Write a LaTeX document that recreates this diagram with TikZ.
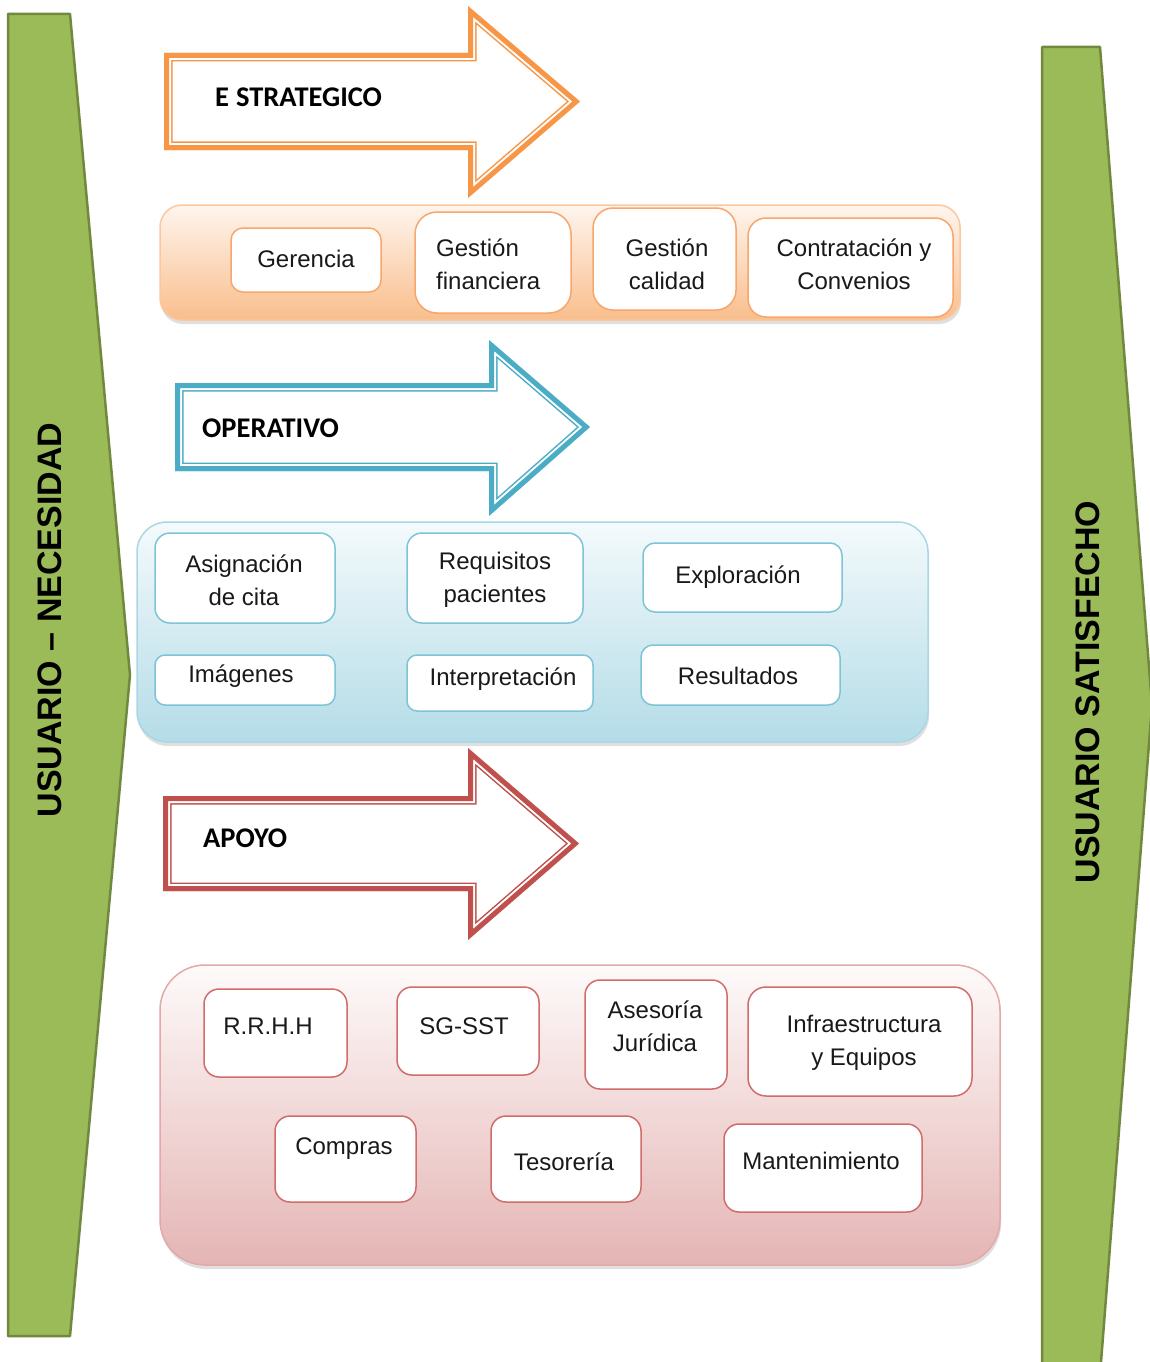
\documentclass[tikz,border=0pt]{standalone}
\usepackage{fontspec}
\setmainfont{Liberation Sans}
\newfontfamily\headfont{Carlito}
\usetikzlibrary{shadows}
\definecolor{grn}{HTML}{9BBB59}
\definecolor{grnd}{HTML}{71893F}
\definecolor{orA}{HTML}{F79646}
\definecolor{orB}{HTML}{F7A66C}
\definecolor{orC}{HTML}{FAC79F}
\definecolor{orTop}{HTML}{FEF5EE}
\definecolor{orBot}{HTML}{F9BE8C}
\definecolor{blA}{HTML}{4BACC6}
\definecolor{blB}{HTML}{7EC4D8}
\definecolor{blC}{HTML}{A9D7E4}
\definecolor{blTop}{HTML}{F4FAFC}
\definecolor{blBot}{HTML}{B4DCE7}
\definecolor{rdA}{HTML}{C0504D}
\definecolor{rdB}{HTML}{D06C69}
\definecolor{rdC}{HTML}{E3A9A8}
\definecolor{rdTop}{HTML}{FEFAFA}
\definecolor{rdBot}{HTML}{E4B5B4}
% #1 colour, #2 x0, #3 shaft top, #4 shaft bottom, #5 head x, #6 head top, #7 tip x, #8 head bottom
\newcommand\procarrow[8]{%
  \begin{scope}
    \fill[white] (#2,#3) -- (#5,#3) -- (#5,#6) -- (#7,{(#3+#4)/2}) -- (#5,#8) -- (#5,#4) -- (#2,#4) -- cycle;
    \clip (#2,#3) -- (#5,#3) -- (#5,#6) -- (#7,{(#3+#4)/2}) -- (#5,#8) -- (#5,#4) -- (#2,#4) -- cycle;
    \draw[#1, line width=17, line join=miter, miter limit=20] (#2,#3) -- (#5,#3) -- (#5,#6) -- (#7,{(#3+#4)/2}) -- (#5,#8) -- (#5,#4) -- (#2,#4) -- cycle;
    \draw[white, line width=14, line join=miter, miter limit=20] (#2,#3) -- (#5,#3) -- (#5,#6) -- (#7,{(#3+#4)/2}) -- (#5,#8) -- (#5,#4) -- (#2,#4) -- cycle;
    \draw[#1, line width=10, line join=miter, miter limit=20] (#2,#3) -- (#5,#3) -- (#5,#6) -- (#7,{(#3+#4)/2}) -- (#5,#8) -- (#5,#4) -- (#2,#4) -- cycle;
  \end{scope}}
\begin{document}
\begin{tikzpicture}[x=1pt,y=-1pt,
  greenshape/.style={fill=grn, draw=grnd, line width=2.5, line join=round},
  sidetext/.style={font=\bfseries\fontsize{34}{34}\selectfont, rotate=90, inner sep=0},
  cont/.style={rectangle, line width=1.5, inner sep=0,
     drop shadow={shadow xshift=1pt, shadow yshift=-4pt, opacity=0.25}},
  box/.style={rectangle, line width=1.5, fill=white, inner sep=0},
  txt/.style={font=\fontsize{24}{33}\selectfont, align=center, inner sep=0, text=black!90},
  head/.style={font=\headfont\bfseries\fontsize{28.5}{28}\selectfont, anchor=west, inner sep=0},
  obox/.style={box, draw=orB},
  bbox/.style={box, draw=blB},
  rbox/.style={box, draw=rdB}]
\useasboundingbox (0,0) rectangle (1150,1362);
\clip (0,0) rectangle (1150,1362);

% green side shapes
\draw[greenshape] (8,14) -- (70,14) -- (130,675) -- (70,1336) -- (8,1336) -- cycle;
\draw[greenshape] (1042,47) -- (1100,47) -- (1152,705) -- (1100,1375) -- (1042,1375) -- cycle;
\node[sidetext] (need) at (50,620) {USUARIO – NECESIDAD};
\node[sidetext] (sat) at (1088,692) {USUARIO SATISFECHO};

% containers
\node[cont, draw=orC, top color=orTop, bottom color=orBot, rounded corners=22,
      minimum width=800, minimum height=115] (estc) at (560,262.5) {};
\node[cont, draw=blC, top color=blTop, bottom color=blBot, rounded corners=30,
      minimum width=791, minimum height=220] (opc) at (532.5,632) {};
\node[cont, draw=rdC, top color=rdTop, bottom color=rdBot, rounded corners=45,
      minimum width=840, minimum height=300] (apc) at (580,1115) {};

% process arrows
\procarrow{orA}{164}{53}{150}{468}{6}{580}{198}
\procarrow{blA}{175}{383}{471}{489}{340}{590}{516}
\procarrow{rdA}{163}{796}{891}{468}{748}{579}{940}
\node[head] (est) at (215,97) {E\kern7pt STRATEGICO};
\node[head] (op) at (202,428) {OPERATIVO};
\node[head] (ap) at (203,838) {APOYO};

% strategic boxes
\node[obox, rounded corners=12, minimum width=150, minimum height=64] (ger) at (306,260) {};
\node[txt] (gert) at (306,259) {Gerencia};
\node[obox, rounded corners=22, minimum width=156, minimum height=101] (gf) at (493,262.5) {};
\node[txt, align=left, anchor=west] (gft) at (436,264) {Gestión\\financiera};
\node[obox, rounded corners=20, minimum width=143, minimum height=102] (gc) at (664.5,259) {};
\node[txt] (gct) at (667,264) {Gestión\\calidad};
\node[obox, rounded corners=18, minimum width=205, minimum height=99] (cc) at (850.5,267.5) {};
\node[txt] (cct) at (854,264) {Contratación y\\Convenios};

% operative boxes
\node[bbox, rounded corners=15, minimum width=180, minimum height=90] (ac) at (245,578) {};
\node[txt] (act) at (244,580) {Asignación\\de cita};
\node[bbox, rounded corners=15, minimum width=176, minimum height=90] (rp) at (495,578) {};
\node[txt] (rpt) at (495,580) {Requisitos\\pacientes};
\node[bbox, rounded corners=12, minimum width=199, minimum height=69] (ex) at (742.5,577.5) {};
\node[txt] (ext) at (738,577) {Exploración};
\node[bbox, rounded corners=10, minimum width=180, minimum height=50] (im) at (245,680) {};
\node[txt] (imt) at (241,676) {Imágenes};
\node[bbox, rounded corners=10, minimum width=186, minimum height=56] (in) at (500,683) {};
\node[txt] (int) at (503,679) {Interpretación};
\node[bbox, rounded corners=12, minimum width=199, minimum height=60] (re) at (740.5,675) {};
\node[txt] (ret) at (738,676) {Resultados};

% support boxes
\node[rbox, rounded corners=15, minimum width=143, minimum height=88] (rh) at (275.5,1033) {};
\node[txt] (rht) at (268,1026) {R.R.H.H};
\node[rbox, rounded corners=15, minimum width=142, minimum height=88] (sg) at (468,1031) {};
\node[txt] (sgt) at (464,1026) {SG-SST};
\node[rbox, rounded corners=15, minimum width=142, minimum height=109] (aj) at (656,1034.5) {};
\node[txt] (ajt) at (655,1026) {Asesoría\\Jurídica};
\node[rbox, rounded corners=18, minimum width=224, minimum height=109] (ie) at (860,1041.5) {};
\node[txt] (iet) at (864,1043) {Infraestructura\\y Equipos};
\node[rbox, rounded corners=15, minimum width=141, minimum height=86] (co) at (345.5,1159) {};
\node[txt] (cot) at (344,1149) {Compras};
\node[rbox, rounded corners=15, minimum width=150, minimum height=86] (te) at (566,1159) {};
\node[txt] (tet) at (564,1162) {Tesorería};
\node[rbox, rounded corners=15, minimum width=198, minimum height=88] (ma) at (823,1168) {};
\node[txt] (mat) at (821,1161) {Mantenimiento};
\end{tikzpicture}
\end{document}
